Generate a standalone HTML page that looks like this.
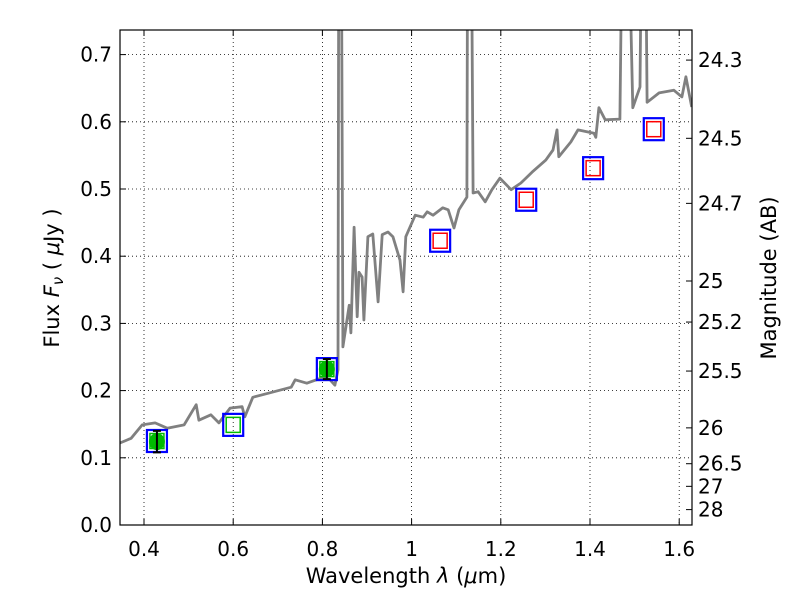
<!DOCTYPE html>
<html><head><meta charset="utf-8"><style>
html,body{margin:0;padding:0;background:#fff;}
svg{display:block;font-family:"DejaVu Sans","Liberation Sans",sans-serif;}
</style></head><body>
<svg id="chart" width="800" height="600" viewBox="0 0 800 600" xmlns="http://www.w3.org/2000/svg">
<rect x="0" y="0" width="800" height="600" fill="#fff"/>
<defs><clipPath id="clip"><rect x="120" y="30" width="572" height="495"/></clipPath></defs>
<g id="grid"></g>
<g id="plot" clip-path="url(#clip)"></g>
<g id="axes"></g>
<text x="406" y="583" font-size="21" text-anchor="middle">Wavelength  <tspan font-style="italic">λ</tspan> (<tspan font-style="italic">μ</tspan>m)</text>
<text transform="translate(59,278) rotate(-90)" font-size="21" text-anchor="middle">Flux  <tspan font-style="italic">F</tspan><tspan font-style="italic" font-size="15" dy="4">ν</tspan><tspan dy="-4">  ( </tspan><tspan font-style="italic">μ</tspan>Jy )</text>
<text transform="translate(776,278) rotate(-90)" font-size="21" text-anchor="middle">Magnitude (AB)</text>
</svg>
<script>
const specLam=[0.346,0.371,0.396,0.425,0.452,0.490,0.517,0.523,0.550,0.568,0.593,0.620,0.626,0.644,0.678,0.730,0.739,0.765,0.799,0.817,0.828,0.835,0.837,0.842,0.846,0.860,0.864,0.871,0.878,0.882,0.889,0.893,0.902,0.913,0.925,0.934,0.947,0.958,0.974,0.981,0.987,1.008,1.026,1.035,1.048,1.070,1.082,1.095,1.106,1.124,1.126,1.133,1.138,1.149,1.165,1.180,1.198,1.223,1.245,1.270,1.301,1.317,1.326,1.330,1.357,1.373,1.409,1.413,1.420,1.434,1.467,1.474,1.483,1.496,1.512,1.517,1.523,1.528,1.555,1.588,1.606,1.615,1.628];
const specFlux=[0.122,0.129,0.149,0.152,0.144,0.149,0.179,0.156,0.164,0.152,0.174,0.176,0.161,0.190,0.196,0.205,0.216,0.211,0.219,0.216,0.208,0.231,1.0,1.0,0.265,0.327,0.286,0.443,0.310,0.376,0.369,0.305,0.429,0.433,0.332,0.432,0.436,0.429,0.394,0.347,0.429,0.461,0.458,0.466,0.461,0.472,0.469,0.442,0.469,0.488,1.0,1.0,0.494,0.496,0.481,0.499,0.516,0.499,0.509,0.525,0.543,0.558,0.588,0.548,0.570,0.588,0.583,0.577,0.621,0.603,0.604,1.0,1.0,0.621,0.652,1.0,1.0,0.629,0.643,0.647,0.637,0.667,0.622];
const photLam=[0.429,0.600,0.810,1.064,1.257,1.407,1.543];
const photFlux=[0.125,0.149,0.232,0.423,0.484,0.531,0.589];
const photInner=['green','green','green','red','red','red','red'];
const detLam=[0.429,0.810];
const detFlux=[0.124,0.232];
const detErr=[0.016,0.015];
const xTicks=[0.4,0.6,0.8,1.0,1.2,1.4,1.6];
const xTickLabels=['0.4','0.6','0.8','1','1.2','1.4','1.6'];
const yTicks=[0,0.1,0.2,0.3,0.4,0.5,0.6,0.7];
const yTickLabels=['0.0','0.1','0.2','0.3','0.4','0.5','0.6','0.7'];
const magTicks=[24.3,24.5,24.7,25,25.2,25.5,26,26.5,27,28];
const magTickLabels=['24.3','24.5','24.7','25','25.2','25.5','26','26.5','27','28'];

const L=120,R=692,T=30,B=525;
function xs(l){return 144+(l-0.4)*446;}
function ys(f){return 525-f*672;}
function mag2flux(m){return Math.pow(10,(23.9-m)/2.5);}
const NS='http://www.w3.org/2000/svg';
function mk(tag,attrs,parent){const e=document.createElementNS(NS,tag);for(const k in attrs)e.setAttribute(k,attrs[k]);parent.appendChild(e);return e;}
const grid=document.getElementById('grid'),plot=document.getElementById('plot'),axes=document.getElementById('axes');

xTicks.forEach((t,i)=>{
  const x=xs(t);
  const g=mk('line',{x1:x,x2:x,y1:T,y2:B,stroke:'#000','stroke-width':0.8,'stroke-dasharray':'1,3'},grid);
  
  
  mk('line',{x1:x,x2:x,y1:B,y2:B-6,stroke:'#000','stroke-width':1},axes);
  mk('line',{x1:x,x2:x,y1:T,y2:T+6,stroke:'#000','stroke-width':1},axes);
  const tx=mk('text',{x:x,y:556,'font-size':20,'text-anchor':'middle'},axes);
  tx.textContent=xTickLabels[i];
  
  
});
yTicks.forEach((t,i)=>{
  const y=ys(t);
  const g=mk('line',{x1:L,x2:R,y1:y,y2:y,stroke:'#000','stroke-width':0.8,'stroke-dasharray':'1,3'},grid);
  
  
  mk('line',{x1:L,x2:L+6,y1:y,y2:y,stroke:'#000','stroke-width':1},axes);
  const tx=mk('text',{x:112,y:y+7,'font-size':20,'text-anchor':'end'},axes);
  tx.textContent=yTickLabels[i];
  
  
});
magTicks.forEach((m,i)=>{
  const y=ys(mag2flux(m));
  mk('line',{x1:R,x2:R-6,y1:y,y2:y,stroke:'#000','stroke-width':1},axes);
  const tx=mk('text',{x:698,y:y+7,'font-size':20,'text-anchor':'start'},axes);
  tx.textContent=magTickLabels[i];
  
  
});

let d='';
specLam.forEach((l,i)=>{d+=(i?'L':'M')+xs(l).toFixed(1)+','+ys(specFlux[i]).toFixed(1);});
const sp=mk('path',{d:d,fill:'none',stroke:'#808080','stroke-width':2.8,'stroke-linejoin':'round'},plot);



photLam.forEach((l,i)=>{
  const x=xs(l),y=ys(photFlux[i]);
  const o=mk('rect',{x:x-10,y:y-11,width:20,height:22,fill:'none',stroke:'#0000ff','stroke-width':2.2},plot);
  
  
  const c=photInner[i]==='red'?'#ff0000':'#00bb00';
  const r=mk('rect',{x:x-7,y:y-7.5,width:14,height:15,fill:'none',stroke:c,'stroke-width':1.5},plot);
  
  
});
detLam.forEach((l,i)=>{
  const x=xs(l),y=ys(detFlux[i]);
  const c=mk('ellipse',{cx:x,cy:y,rx:8,ry:8.5,fill:'#00bb00'},plot);
  
  
  const y1=ys(detFlux[i]+detErr[i]),y2=ys(detFlux[i]-detErr[i]);
  const e=mk('path',{d:`M${x},${y1}L${x},${y2}M${x-4},${y1}L${x+4},${y1}M${x-4},${y2}L${x+4},${y2}`,stroke:'#000','stroke-width':2,fill:'none'},plot);
  
  
});
const fr=mk('rect',{x:L,y:T,width:R-L,height:B-T,fill:'none',stroke:'#000','stroke-width':1.2},axes);


</script>
</body></html>
